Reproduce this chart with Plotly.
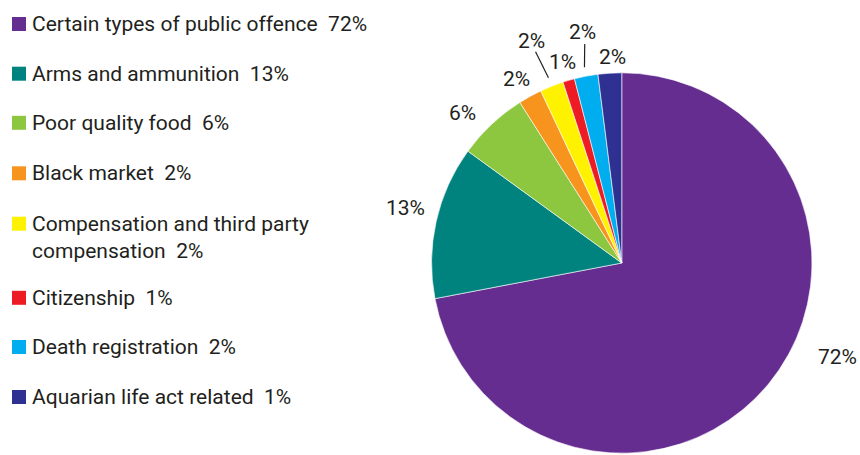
import math
import plotly.graph_objects as go

# Offence categories, in drawing order (clockwise from 12 o'clock)
categories = [
    "Certain types of public offence",
    "Arms and ammunition",
    "Poor quality food",
    "Black market",
    "Compensation and third party<br>compensation",
    "Citizenship",
    "Death registration",
    "Aquarian life act related",
]
# Share of cases, in percent
shares = [72, 13, 6, 2, 2, 1, 2, 2]
# Percentages as printed next to each key entry
key_shares = ["72%", "13%", "6%", "2%", "2%", "1%", "2%", "1%"]
colors = ["#662D91", "#00827F", "#8DC63F", "#F7941D",
          "#FFF200", "#ED1C24", "#00AEEF", "#2E3192"]

W, H = 860, 455
FONT = "Roboto"
TXT = "#231F20"
FS = 21

# Pie placement (paper fractions)
dom_x = [0.5, 0.946]
dom_y = [0.004, 0.84]

# Value-label styling: distance beyond the rim (px), angular nudge (deg),
# and whether a leader line joins label and slice
label_gap = [45, 33, 28, 22, 50, 19.5, 44, 16]
label_nudge = [-16, 1.7, -3.5, -1, -0.6, -0.2, 1.2, 1.1]
label_leader = [False, False, False, False, True, False, True, False]

fig = go.Figure(
    go.Pie(
        labels=[c.replace("<br>", " ") for c in categories],
        values=shares,
        sort=False,
        direction="clockwise",
        rotation=0,
        marker=dict(colors=colors, line=dict(color="white", width=0.6)),
        textinfo="none",
        domain=dict(x=dom_x, y=dom_y),
        showlegend=False,
        hoverinfo="label+percent",
    )
)

# Pie geometry in pixels (plotly fits the circle inside its domain)
dw = (dom_x[1] - dom_x[0]) * W
dh = (dom_y[1] - dom_y[0]) * H
r = min(dw, dh) / 2
cx = (dom_x[0] + dom_x[1]) / 2 * W
cy = H - (dom_y[0] + dom_y[1]) / 2 * H


def to_paper(px, py):
    return px / W, 1 - py / H


def polar(theta_deg, rad):
    t = math.radians(theta_deg)
    return cx + rad * math.sin(t), cy - rad * math.cos(t)


# Value labels outside each slice
total = sum(shares)
cum = 0
for v, gap, nudge, leader in zip(shares, label_gap, label_nudge, label_leader):
    mid = (cum + v / 2) / total * 360
    cum += v
    lx, ly = polar(mid + nudge, r + gap)
    px, py = to_paper(lx, ly)
    fig.add_annotation(
        xref="paper", yref="paper", x=px, y=py,
        xanchor="center", yanchor="middle",
        text=f"{v}%", showarrow=False,
        font=dict(family=FONT, size=FS, color=TXT),
    )
    if leader:
        x0, y0 = polar(mid, r + 9)
        x1, y1 = polar(mid + nudge, r + gap - 12)
        a0, b0 = to_paper(x0, y0)
        a1, b1 = to_paper(x1, y1)
        fig.add_shape(type="line", xref="paper", yref="paper",
                      x0=a0, y0=b0, x1=a1, y1=b1,
                      line=dict(color=TXT, width=1.2))

# Hand-laid key: coloured square plus label on the left
row_y = [24, 73.7, 122.8, 173.3, 223.7, 297.8, 347, 397]
for cat, pct, col, yc in zip(categories, key_shares, colors, row_y):
    x0, y0 = to_paper(12, yc + 7)
    x1, y1 = to_paper(26, yc - 7)
    fig.add_shape(type="rect", xref="paper", yref="paper",
                  x0=x0, x1=x1, y0=y0, y1=y1,
                  fillcolor=col, line=dict(width=0))
    n_lines = cat.count("<br>") + 1
    ty = yc + (n_lines - 1) * FS * 1.3 / 2
    tx, typ = to_paper(30, ty)
    fig.add_annotation(
        xref="paper", yref="paper", x=tx, y=typ,
        xanchor="left", yanchor="middle", align="left",
        text=f"{cat}\u00a0\u00a0{pct}", showarrow=False,
        font=dict(family=FONT, size=FS, color=TXT),
    )

fig.update_layout(
    width=W, height=H,
    margin=dict(l=0, r=0, t=0, b=0, autoexpand=False),
    paper_bgcolor="white",
    plot_bgcolor="white",
)

fig.write_html("out.html")
